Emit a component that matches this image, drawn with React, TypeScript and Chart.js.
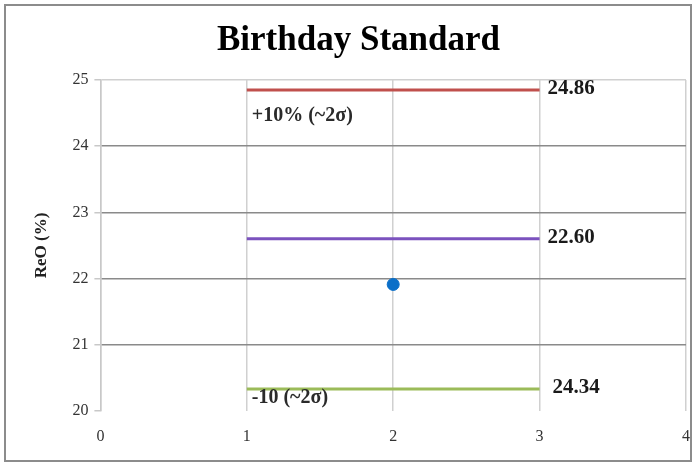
import React, { useEffect, useRef } from "react";
import { Chart, registerables } from "chart.js";

Chart.register(...registerables);

const TITLE = "Birthday Standard";
const Y_TITLE = "ReO (%)";
const LINE_X = [1, 3];
const UPPER_Y = [24.85, 24.85];
const MEAN_Y = [22.6, 22.6];
const LOWER_Y = [20.33, 20.33];
const POINT_X = [2];
const POINT_Y = [21.91];
const VALUE_LABELS = ["24.86", "22.60", "24.34"];
const BAND_LABELS = ["+10% (~2σ)", "-10 (~2σ)"];

const SERIF = "'Liberation Serif', 'DejaVu Serif', serif";

const labelPlugin = {
  id: "lineLabels",
  afterDatasetsDraw(chart: any) {
    const { ctx, scales } = chart;
    const xs = scales.x;
    const ys = scales.y;
    ctx.save();
    ctx.fillStyle = "#1a1a1a";
    ctx.textBaseline = "middle";
    ctx.textAlign = "left";
    ctx.font = `bold 21px ${SERIF}`;
    const lineYs = [UPPER_Y[1], MEAN_Y[1], LOWER_Y[1]];
    const xOff = [8, 8, 13];
    lineYs.forEach((v, i) => {
      ctx.fillText(VALUE_LABELS[i], xs.getPixelForValue(LINE_X[1]) + xOff[i], ys.getPixelForValue(v) - 1);
    });
    ctx.font = `bold 20px ${SERIF}`;
    ctx.fillStyle = "#2a2a2a";
    ctx.fillText(BAND_LABELS[0], xs.getPixelForValue(LINE_X[0]) + 5, ys.getPixelForValue(UPPER_Y[0]) + 26);
    ctx.fillText(BAND_LABELS[1], xs.getPixelForValue(LINE_X[0]) + 5, ys.getPixelForValue(LOWER_Y[0]) + 9);
    ctx.restore();
  },
};

export default function App() {
  const ref = useRef<HTMLCanvasElement>(null);
  useEffect(() => {
    const c = ref.current!;
    const chart = new Chart(c, {
      type: "scatter",
      data: {
        datasets: [
          {
            data: LINE_X.map((x, i) => ({ x, y: UPPER_Y[i] })),
            showLine: true,
            borderColor: "#C0504D",
            borderWidth: 3,
            pointRadius: 0,
          },
          {
            data: LINE_X.map((x, i) => ({ x, y: MEAN_Y[i] })),
            showLine: true,
            borderColor: "#7B52BE",
            borderWidth: 3,
            pointRadius: 0,
          },
          {
            data: LINE_X.map((x, i) => ({ x, y: LOWER_Y[i] })),
            showLine: true,
            borderColor: "#9BBB59",
            borderWidth: 3,
            pointRadius: 0,
          },
          {
            data: POINT_X.map((x, i) => ({ x, y: POINT_Y[i] })),
            showLine: false,
            backgroundColor: "#0B6FC8",
            borderColor: "#0B6FC8",
            pointRadius: 6,
          },
        ],
      },
      options: {
        animation: false,
        responsive: false,
        layout: { padding: { left: 31, right: 12, top: 0, bottom: 6 } },
        plugins: {
          legend: { display: false },
          tooltip: { enabled: false },
          title: {
            display: true,
            text: TITLE,
            color: "#000",
            font: { family: SERIF, size: 35, weight: "bold" },
            padding: { top: 20, bottom: 18 },
          },
        },
        scales: {
          x: {
            type: "linear",
            min: 0,
            max: 4,
            afterFit: (scale: any) => {
              scale.paddingRight = 0;
            },
            ticks: {
              stepSize: 1,
              color: "#333",
              font: { family: SERIF, size: 16 },
              padding: 16,
            },
            grid: { color: "#D0D0D0", lineWidth: 1.5, drawTicks: false },
            border: { display: false },
          },
          y: {
            type: "linear",
            min: 20,
            max: 25,
            ticks: {
              stepSize: 1,
              color: "#333",
              font: { family: SERIF, size: 16 },
              padding: 6,
            },
            grid: {
              color: (ctx: any) =>
                ctx.tick && ctx.tick.value === 20
                  ? "rgba(0,0,0,0)"
                  : ctx.tick && ctx.tick.value === 25
                  ? "#D0D0D0"
                  : "#8A8A8A",
              lineWidth: 1.5,
              tickLength: 6,
              tickColor: "#C8C8C8",
            },
            border: { display: true, color: "#C8C8C8", width: 1.5 },
            title: {
              display: true,
              text: Y_TITLE,
              color: "#222",
              font: { family: SERIF, size: 17, weight: "bold" },
              padding: { top: 0, bottom: 15 },
            },
          },
        },
      },
      plugins: [labelPlugin],
    });
    return () => chart.destroy();
  }, []);
  return (
    <div style={{ position: "fixed", left: 0, top: 0, width: 698, height: 468, background: "#fff" }}>
      <div
        style={{
          position: "absolute",
          left: 4,
          top: 4,
          width: 688,
          height: 458,
          border: "2px solid #8C8C8C",
          boxSizing: "border-box",
        }}
      />
      <canvas ref={ref} width={698} height={468} style={{ position: "absolute", left: 0, top: 0 }} />
    </div>
  );
}
